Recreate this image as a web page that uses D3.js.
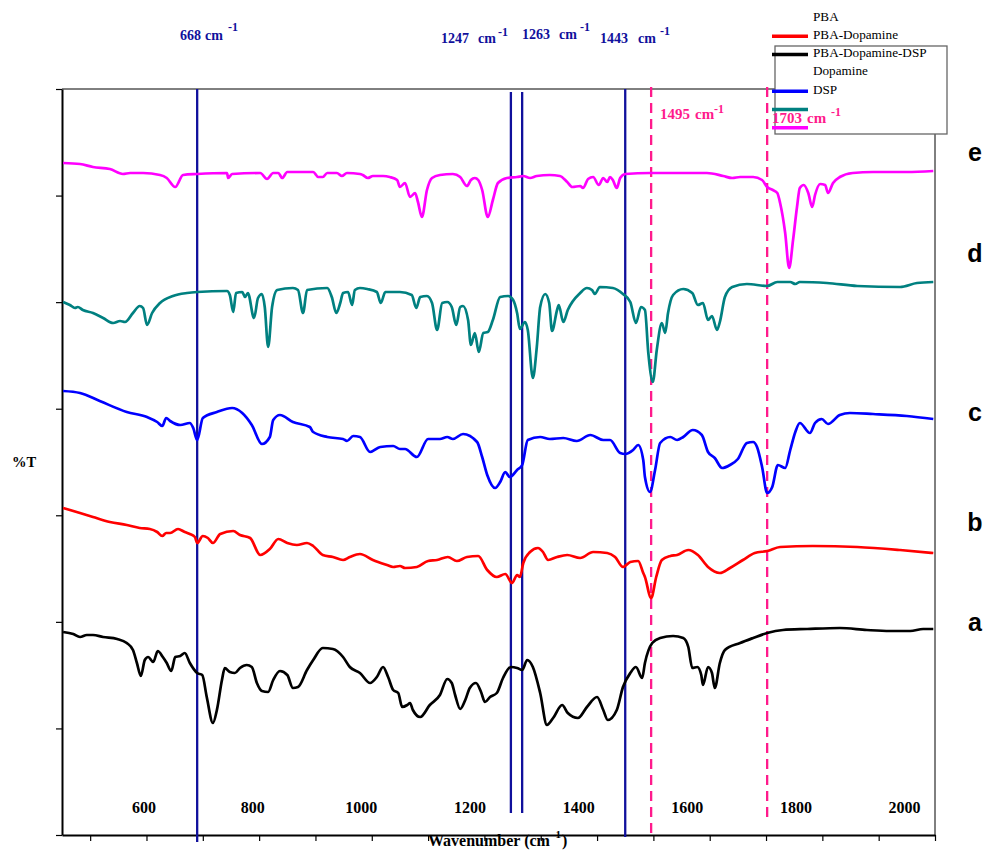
<!DOCTYPE html>
<html>
<head>
<meta charset="utf-8">
<script src="https://cdn.jsdelivr.net/npm/d3@7"></script>
<style>
  html, body { margin: 0; padding: 0; background: #fff; }
  svg { display: block; }
</style>
</head>
<body>
<svg id="chart" width="986" height="850"></svg>
<script>
// ---------------- DATA ----------------
// wavenumber (cm-1), %T
const spectrumA = [[452,20.3],[470,20.1],[482,19.8],[494,20.0],[505,20.0],[523,19.8],[548,19.6],[565,19.2],[576,18.5],[583,17.2],[590,15.9],[597,17.5],[603,17.8],[612,17.3],[620,18.4],[629,17.8],[636,17.2],[644,16.4],[651,17.8],[660,17.9],[668,18.2],[677,17.2],[690,16.2],[699,16.0],[707,13.8],[718,11.2],[725,12.5],[734,15.5],[739,16.7],[748,16.3],[757,16.2],[766,16.7],[778,17.0],[787,16.8],[796,15.2],[805,14.4],[816,14.3],[825,15.5],[837,16.4],[850,16.0],[860,14.7],[869,14.8],[885,16.5],[896,17.5],[913,18.7],[931,18.6],[949,17.8],[961,16.8],[979,16.2],[997,15.2],[1009,15.8],[1020,16.8],[1029,15.8],[1038,14.5],[1047,14.2],[1054,12.8],[1063,13.0],[1068,13.2],[1073,12.5],[1086,11.8],[1103,13.0],[1121,14.0],[1134,15.6],[1142,15.2],[1148,14.0],[1157,12.6],[1166,13.5],[1174,14.7],[1185,15.2],[1194,14.3],[1201,13.3],[1210,13.8],[1222,14.2],[1233,15.7],[1247,16.8],[1258,16.7],[1267,16.5],[1276,17.5],[1286,16.8],[1299,14.2],[1311,11.0],[1322,11.7],[1338,13.0],[1348,12.2],[1366,11.7],[1382,12.8],[1400,13.8],[1411,12.5],[1419,11.5],[1435,12.5],[1446,14.8],[1459,16.2],[1469,16.8],[1480,15.7],[1485,17.2],[1498,19.2],[1512,19.7],[1535,19.9],[1553,19.7],[1562,18.8],[1569,16.7],[1578,16.8],[1585,16.0],[1588,15.0],[1597,16.8],[1604,16.2],[1609,14.7],[1618,17.2],[1627,18.5],[1654,19.2],[1677,19.7],[1702,20.2],[1730,20.5],[1773,20.6],[1831,20.7],[1879,20.5],[1920,20.4],[1956,20.4],[1979,20.6],[1997,20.6]];

const spectrumB = [[452,32.7],[482,32.2],[505,31.8],[535,31.3],[565,31.0],[588,30.7],[606,30.6],[619,30.3],[628,29.9],[635,30.2],[642,30.2],[656,30.6],[668,30.3],[677,30.1],[686,29.8],[690,29.2],[700,29.9],[709,29.7],[718,29.2],[731,30.1],[754,30.4],[766,30.0],[784,29.7],[802,28.0],[819,28.6],[834,29.6],[850,29.2],[867,29.0],[885,29.2],[896,28.9],[913,28.0],[931,27.8],[949,27.5],[961,27.8],[979,28.1],[1002,27.5],[1027,27.0],[1038,26.8],[1050,26.9],[1059,26.7],[1080,26.8],[1100,27.4],[1116,27.5],[1135,27.8],[1151,27.4],[1169,27.8],[1189,27.9],[1205,26.5],[1222,25.8],[1237,26.1],[1249,25.2],[1258,26.0],[1263,25.8],[1269,27.2],[1281,28.3],[1295,28.7],[1304,28.3],[1313,27.5],[1329,27.8],[1347,28.0],[1370,27.7],[1393,28.3],[1418,28.2],[1432,27.8],[1446,26.8],[1459,27.3],[1473,27.4],[1482,26.2],[1485,25.8],[1496,23.7],[1505,25.8],[1515,27.5],[1530,27.9],[1542,28.0],[1562,28.5],[1579,28.0],[1597,26.8],[1618,26.2],[1636,26.7],[1659,27.5],[1680,28.2],[1702,28.4],[1725,28.8],[1783,28.9],[1862,28.8],[1938,28.5],[1997,28.2]];

const spectrumC = [[452,44.4],[482,44.2],[517,43.4],[565,42.3],[601,41.8],[619,41.3],[628,40.9],[635,41.7],[642,41.4],[660,41.0],[677,41.2],[683,40.7],[690,39.5],[700,41.7],[725,42.3],[752,42.7],[770,42.2],[787,41.0],[805,39.1],[819,39.8],[825,41.5],[837,42.0],[860,41.3],[890,40.8],[896,40.3],[921,39.8],[949,39.6],[956,39.4],[967,39.9],[979,39.8],[997,38.3],[1015,38.8],[1038,38.9],[1050,38.6],[1059,38.6],[1080,37.8],[1100,39.6],[1121,39.6],[1134,39.8],[1144,39.6],[1162,40.1],[1187,39.3],[1196,37.8],[1205,36.0],[1219,34.7],[1228,35.3],[1237,36.3],[1245,35.8],[1258,36.5],[1267,37.0],[1277,39.5],[1299,39.8],[1316,39.6],[1340,39.7],[1364,39.4],[1388,40.0],[1411,39.5],[1423,39.5],[1441,38.2],[1450,38.1],[1464,38.5],[1473,39.0],[1482,37.5],[1485,35.8],[1494,34.3],[1503,36.5],[1512,39.2],[1530,39.8],[1542,39.5],[1553,39.8],[1570,40.5],[1586,40.0],[1597,38.3],[1609,37.7],[1622,36.7],[1636,37.0],[1650,37.6],[1666,39.2],[1677,39.3],[1684,38.8],[1693,36.8],[1702,34.2],[1711,34.8],[1721,37.0],[1734,36.7],[1743,38.5],[1752,40.3],[1760,41.2],[1778,40.2],[1787,41.2],[1799,41.6],[1810,41.1],[1831,42.0],[1849,42.2],[1890,42.1],[1950,41.9],[1997,41.6]];

const spectrumD = [[452,53.3],[464,53.0],[473,52.7],[478,52.8],[487,52.5],[505,52.2],[523,51.7],[541,51.2],[553,51.4],[562,51.3],[576,52.2],[588,52.9],[594,52.7],[601,51.0],[610,52.2],[624,53.2],[647,53.9],[672,54.2],[690,54.3],[743,54.4],[748,54.0],[754,52.3],[759,54.2],[770,54.3],[775,53.8],[780,54.2],[791,51.7],[798,53.7],[805,54.1],[810,52.8],[816,48.8],[823,52.8],[832,54.5],[860,54.7],[869,54.5],[878,52.2],[885,54.5],[921,54.7],[929,53.8],[937,52.2],[944,53.2],[949,54.2],[958,54.3],[965,53.0],[970,54.5],[979,54.7],[992,54.6],[1009,54.3],[1016,53.2],[1024,54.3],[1050,54.3],[1071,54.0],[1079,52.7],[1086,53.8],[1098,53.9],[1107,53.2],[1116,50.5],[1125,53.2],[1134,53.3],[1142,52.8],[1150,51.0],[1157,52.8],[1162,52.9],[1171,51.5],[1176,49.0],[1183,50.2],[1190,48.3],[1198,50.2],[1206,50.3],[1215,51.5],[1228,53.8],[1242,53.9],[1251,53.5],[1258,52.2],[1263,50.6],[1272,51.3],[1277,50.5],[1286,45.7],[1293,48.8],[1299,52.8],[1308,54.1],[1315,53.2],[1320,50.4],[1329,52.5],[1332,53.0],[1340,51.3],[1348,52.5],[1370,54.2],[1382,54.7],[1391,54.5],[1396,54.1],[1405,54.8],[1428,54.7],[1446,54.1],[1459,53.3],[1469,51.2],[1478,52.8],[1485,52.5],[1491,48.2],[1499,45.3],[1506,48.5],[1515,51.2],[1521,50.2],[1526,52.2],[1535,54.0],[1553,54.6],[1569,54.2],[1579,53.0],[1588,53.2],[1597,51.5],[1604,51.9],[1613,50.5],[1618,51.3],[1627,53.8],[1640,54.8],[1666,55.1],[1702,54.9],[1720,55.3],[1743,55.3],[1752,55.1],[1760,55.3],[1808,55.2],[1862,54.9],[1938,54.8],[1968,55.2],[1997,55.3]];

const spectrumE = [[452,67.2],[482,67.1],[505,66.8],[535,66.6],[558,66.1],[571,66.2],[594,66.2],[624,66.0],[636,65.7],[651,64.8],[665,66.0],[690,66.1],[743,66.2],[745,65.7],[752,66.1],[802,66.2],[814,65.6],[825,66.2],[834,66.2],[841,65.7],[850,66.3],[896,66.3],[905,65.8],[913,65.8],[921,66.2],[938,66.2],[947,65.9],[956,66.2],[979,66.1],[984,66.0],[993,65.7],[1002,65.9],[1020,65.9],[1032,65.8],[1045,65.5],[1050,64.8],[1059,65.2],[1068,63.8],[1077,64.2],[1082,63.3],[1089,61.8],[1098,64.5],[1107,65.7],[1121,66.0],[1144,66.1],[1157,65.8],[1169,64.9],[1176,65.5],[1183,65.7],[1189,65.5],[1196,64.5],[1206,61.8],[1215,63.5],[1224,65.2],[1240,65.7],[1258,65.8],[1269,65.9],[1281,65.7],[1293,65.9],[1316,66.0],[1334,65.9],[1347,65.3],[1356,64.8],[1370,64.9],[1375,64.7],[1384,65.6],[1393,65.8],[1403,65.0],[1411,65.7],[1418,65.3],[1423,65.8],[1428,65.5],[1435,64.7],[1441,65.7],[1450,66.1],[1494,66.2],[1535,66.2],[1595,66.2],[1624,65.9],[1640,65.7],[1654,65.8],[1677,65.8],[1693,65.5],[1702,64.8],[1712,64.5],[1720,64.2],[1725,63.2],[1734,60.2],[1741,56.7],[1748,59.5],[1755,62.8],[1760,64.7],[1767,65.0],[1775,64.2],[1782,62.8],[1787,64.0],[1796,65.1],[1805,65.0],[1810,64.2],[1819,65.2],[1831,65.8],[1854,66.2],[1890,66.3],[1950,66.3],[1997,66.4]];

const seriesNames  = ["a", "b", "c", "d", "e"];
const seriesColors = ["#000000", "#ff0000", "#0000ff", "#008080", "#ff00ff"];
const seriesData   = [spectrumA, spectrumB, spectrumC, spectrumD, spectrumE];

const xTickValues  = [500,600,700,800,900,1000,1100,1200,1300,1400,1500,1600,1700,1800,1900,2000];
const xLabelValues = [600, 800, 1000, 1200, 1400, 1600, 1800, 2000];

const solidMarkers  = [690, 1247, 1267, 1450];   // drawn positions (wavenumber)
const dashedMarkers = [1496, 1702];

const legendTexts  = ["PBA", "PBA-Dopamine", "PBA-Dopamine-DSP", "Dopamine", "DSP"];
const legendColors = ["#ff0000", "#000000", "#0000ff", "#008080", "#ff00ff"];

// ---------------- LAYOUT ----------------
const svg = d3.select("#chart");
const L = 62, R = 935, T = 89, B = 835;

const x = d3.scaleLinear().domain([450, 2000]).range([L, R]);
const y = d3.scaleLinear().domain([0, 74.6]).range([B, T]);
const xLabelScale = d3.scaleLinear().domain([449, 2056]).range([L, R]);

const serif = "'Liberation Serif', 'Times New Roman', serif";
const navy = "#10109c";
const pink = "#ff1a8c";

// frame top & right
svg.append("line").attr("x1", L).attr("x2", R).attr("y1", T).attr("y2", T)
  .attr("stroke", "#000").attr("stroke-width", 1);
svg.append("line").attr("x1", R).attr("x2", R).attr("y1", T).attr("y2", B)
  .attr("stroke", "#000").attr("stroke-width", 1);

// y axis
const yTicks = d3.range(8).map(i => i * 74.6 / 7);
const yAxis = svg.append("g").attr("transform", `translate(${L},0)`)
  .call(d3.axisLeft(y).tickValues(yTicks).tickSize(6).tickSizeOuter(0).tickFormat(""));
yAxis.select(".domain").attr("stroke-width", 2);
yAxis.selectAll(".tick line").attr("stroke-width", 1.2);

// x axis
const xAxis = svg.append("g").attr("transform", `translate(0,${B})`)
  .call(d3.axisBottom(x).tickValues(xTickValues).tickSize(6).tickSizeOuter(0).tickFormat(""));
xAxis.select(".domain").attr("stroke-width", 2);
xAxis.selectAll(".tick line").attr("stroke-width", 1.2);

// x labels (inside plot)
svg.append("g").selectAll("text").data(xLabelValues).join("text")
  .attr("x", d => xLabelScale(d)).attr("y", 813)
  .attr("text-anchor", "middle")
  .attr("font-family", serif).attr("font-weight", "bold").attr("font-size", 16)
  .text(d => d);

// axis titles
const xt = svg.append("text").attr("x", 428).attr("y", 846)
  .attr("font-family", serif).attr("font-weight", "bold").attr("font-size", 16);
xt.append("tspan").text("Wavenumber (cm");
xt.append("tspan").attr("font-size", 11).attr("dy", -8).attr("dx", 2).text("-1");
xt.append("tspan").attr("dy", 8).attr("dx", 1).text(")");

svg.append("text").attr("x", 12).attr("y", 467)
  .attr("font-family", serif).attr("font-weight", "bold").attr("font-size", 14.5)
  .text("%T");

// marker lines
const solidExtent = [[T, 842], [92, 813], [92, 813], [T, 837]];
svg.append("g").selectAll("line").data(solidMarkers).join("line")
  .attr("x1", d => x(d)).attr("x2", d => x(d))
  .attr("y1", (d, i) => solidExtent[i][0]).attr("y2", (d, i) => solidExtent[i][1])
  .attr("stroke", navy).attr("stroke-width", 2.3);

const dashedExtent = [[87, 833], [87, 823]];
svg.append("g").selectAll("line").data(dashedMarkers).join("line")
  .attr("x1", d => x(d)).attr("x2", d => x(d))
  .attr("y1", (d, i) => dashedExtent[i][0]).attr("y2", (d, i) => dashedExtent[i][1])
  .attr("stroke", pink).attr("stroke-width", 2.3).attr("stroke-dasharray", "10,6");

// spectra
const line = d3.line().x(d => x(d[0])).y(d => y(d[1])).curve(d3.curveMonotoneX);
svg.append("g").selectAll("path").data(seriesData).join("path")
  .attr("d", d => line(d))
  .attr("fill", "none")
  .attr("stroke", (d, i) => seriesColors[i])
  .attr("stroke-width", 2.7)
  .attr("stroke-linejoin", "round");

// right letters
const letterY = [622, 522, 412, 253, 152];
svg.append("g").selectAll("text").data(seriesNames).join("text")
  .attr("x", 975).attr("y", (d, i) => letterY[i])
  .attr("text-anchor", "middle").attr("dominant-baseline", "central")
  .attr("font-family", "'Liberation Sans', Arial, sans-serif").attr("font-weight", "bold")
  .attr("font-size", 25)
  .text(d => d);

// legend
svg.append("rect").attr("x", 775).attr("y", 46).attr("width", 172).attr("height", 88)
  .attr("fill", "#fff").attr("stroke", "#666").attr("stroke-width", 1.3);
const legendLineRows = [1, 2, 4, 5, 6];
const rowY = r => 16 + 18.3 * r;
svg.append("g").selectAll("line").data(legendColors).join("line")
  .attr("x1", 772).attr("x2", 808)
  .attr("y1", (d, i) => rowY(legendLineRows[i]) + 2).attr("y2", (d, i) => rowY(legendLineRows[i]) + 2)
  .attr("stroke", d => d).attr("stroke-width", 3.5);
svg.append("g").selectAll("text").data(legendTexts).join("text")
  .attr("x", 813).attr("y", (d, i) => rowY(i) + 4.5)
  .attr("font-family", serif).attr("font-size", 13.2)
  .text(d => d);

// annotation labels (drawn last, above legend)
const annotations = [
  { num: "668",  nx: 180, cx: 205, sx: 228, y: 40,  sy: 31,  fs: 14, color: navy },
  { num: "1247", nx: 441, cx: 478, sx: 498, y: 43,  sy: 36,  fs: 14, color: navy },
  { num: "1263", nx: 522, cx: 559, sx: 580, y: 39,  sy: 31,  fs: 14, color: navy },
  { num: "1443", nx: 600, cx: 638, sx: 660, y: 43,  sy: 35,  fs: 14, color: navy },
  { num: "1495", nx: 660, cx: 695, sx: 714, y: 119, sy: 113, fs: 15, color: pink },
  { num: "1703", nx: 772, cx: 807, sx: 831, y: 123, sy: 116, fs: 15, color: pink }
];
const ag = svg.append("g").attr("font-family", serif).attr("font-weight", "bold");
annotations.forEach(a => {
  ag.append("text").attr("x", a.nx).attr("y", a.y).attr("fill", a.color).attr("font-size", a.fs).text(a.num);
  ag.append("text").attr("x", a.cx).attr("y", a.y).attr("fill", a.color).attr("font-size", a.fs).text("cm");
  ag.append("text").attr("x", a.sx).attr("y", a.sy).attr("fill", a.color).attr("font-size", 12).text("-1");
});
</script>
</body>
</html>
